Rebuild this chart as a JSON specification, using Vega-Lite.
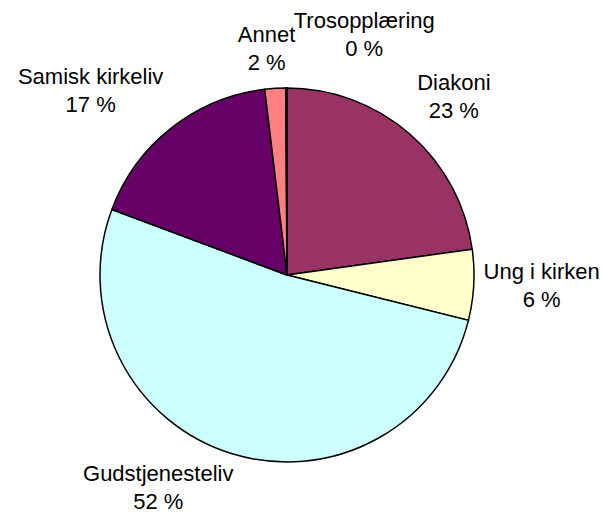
{
  "$schema": "https://vega.github.io/schema/vega-lite/v6.json",
  "width": 374,
  "height": 374,
  "autosize": {"type": "none"},
  "padding": {"left": 100, "top": 88, "right": 130, "bottom": 52},
  "background": "white",
  "config": {"view": {"stroke": null}},
  "data": {
    "values": [
      {"cat": "Diakoni", "label": "Diakoni\n23 %", "value": 22.8, "order": 1},
      {"cat": "Ung i kirken", "label": "Ung i kirken\n6 %", "value": 6.1, "order": 2},
      {"cat": "Gudstjenesteliv", "label": "Gudstjenesteliv\n52 %", "value": 51.8, "order": 3},
      {"cat": "Samisk kirkeliv", "label": "Samisk kirkeliv\n17 %", "value": 17.4, "order": 4},
      {"cat": "Annet", "label": "Annet\n2 %", "value": 1.8, "order": 5},
      {"cat": "Trosopplæring", "label": "Trosopplæring\n0 %", "value": 0.1, "order": 6}
    ]
  },
  "encoding": {
    "theta": {"field": "value", "type": "quantitative", "stack": true},
    "order": {"field": "order", "type": "quantitative"}
  },
  "layer": [
    {
      "mark": {"type": "arc", "stroke": "black", "strokeWidth": 1.5},
      "encoding": {
        "color": {
          "field": "cat",
          "type": "nominal",
          "scale": {
            "domain": ["Diakoni", "Ung i kirken", "Gudstjenesteliv", "Samisk kirkeliv", "Annet", "Trosopplæring"],
            "range": ["#993366", "#FFFFCC", "#CCFFFF", "#660066", "#FF8080", "#0066CC"]
          },
          "legend": null
        }
      }
    },
    {
      "mark": {"type": "text", "radius": 245, "dx": 6, "dy": -7, "font": "Liberation Sans", "fontSize": 22, "lineBreak": "\n", "lineHeight": 28, "align": "center", "baseline": "middle", "color": "black"},
      "encoding": {"text": {"condition": {"test": "datum.cat === 'Diakoni'", "field": "label"}, "value": ""}}
    },
    {
      "mark": {"type": "text", "radius": 245, "dx": 10, "dy": -16, "font": "Liberation Sans", "fontSize": 22, "lineBreak": "\n", "lineHeight": 28, "align": "center", "baseline": "middle", "color": "black"},
      "encoding": {"text": {"condition": {"test": "datum.cat === 'Ung i kirken'", "field": "label"}, "value": ""}}
    },
    {
      "mark": {"type": "text", "radius": 245, "dx": -56, "dy": -35, "font": "Liberation Sans", "fontSize": 22, "lineBreak": "\n", "lineHeight": 28, "align": "center", "baseline": "middle", "color": "black"},
      "encoding": {"text": {"condition": {"test": "datum.cat === 'Gudstjenesteliv'", "field": "label"}, "value": ""}}
    },
    {
      "mark": {"type": "text", "radius": 245, "dx": -45, "dy": -5, "font": "Liberation Sans", "fontSize": 22, "lineBreak": "\n", "lineHeight": 28, "align": "center", "baseline": "middle", "color": "black"},
      "encoding": {"text": {"condition": {"test": "datum.cat === 'Samisk kirkeliv'", "field": "label"}, "value": ""}}
    },
    {
      "mark": {"type": "text", "radius": 245, "dx": -5, "dy": 5, "font": "Liberation Sans", "fontSize": 22, "lineBreak": "\n", "lineHeight": 28, "align": "center", "baseline": "middle", "color": "black"},
      "encoding": {"text": {"condition": {"test": "datum.cat === 'Annet'", "field": "label"}, "value": ""}}
    },
    {
      "mark": {"type": "text", "radius": 245, "dx": 78, "dy": -9, "font": "Liberation Sans", "fontSize": 22, "lineBreak": "\n", "lineHeight": 28, "align": "center", "baseline": "middle", "color": "black"},
      "encoding": {"text": {"condition": {"test": "datum.cat === 'Trosopplæring'", "field": "label"}, "value": ""}}
    }
  ]
}
